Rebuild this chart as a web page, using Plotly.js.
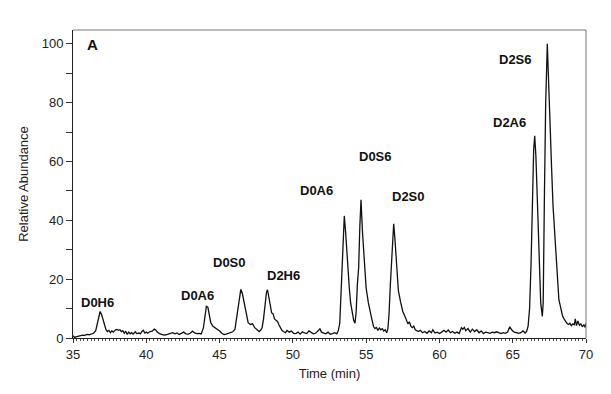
<!DOCTYPE html>
<html>
<head>
<meta charset="utf-8">
<script src="https://cdn.plot.ly/plotly-3.0.1.min.js"></script>
<style>html,body{margin:0;padding:0;background:#fff}#chart{width:611px;height:394px}</style>
</head>
<body>
<div id="chart"></div>
<script>
// Retention time (min)
const time = [
35.00,35.10,35.20,35.35,35.50,35.65,35.80,35.95,36.10,36.25,36.40,36.55,36.65,36.75,36.85,36.95,37.05,37.15,37.25,37.35,
37.45,37.55,37.65,37.75,37.90,38.00,38.10,38.20,38.30,38.40,38.50,38.60,38.70,38.80,38.90,39.00,39.10,39.25,39.35,39.50,
39.60,39.70,39.80,39.90,40.00,40.10,40.25,40.40,40.55,40.65,40.75,40.90,41.05,41.20,41.35,41.50,41.65,41.80,41.95,42.10,
42.25,42.40,42.55,42.70,42.85,43.00,43.15,43.30,43.45,43.60,43.75,43.90,44.00,44.10,44.20,44.30,44.40,44.55,44.70,44.85,
45.00,45.15,45.30,45.45,45.60,45.75,45.90,46.05,46.15,46.25,46.35,46.45,46.55,46.65,46.75,46.85,46.95,47.10,47.25,47.40,
47.55,47.70,47.80,47.90,48.00,48.10,48.20,48.27,48.35,48.45,48.55,48.65,48.75,48.85,48.95,49.05,49.15,49.25,49.35,49.50,
49.60,49.75,49.90,50.05,50.20,50.35,50.50,50.65,50.80,50.95,51.10,51.25,51.40,51.55,51.70,51.85,51.95,52.10,52.25,52.40,
52.55,52.70,52.85,53.00,53.10,53.20,53.28,53.35,53.43,53.51,53.60,53.74,53.85,53.94,54.05,54.15,54.24,54.32,54.40,54.49,
54.57,54.65,54.75,54.88,55.00,55.15,55.25,55.38,55.50,55.60,55.70,55.80,55.90,56.00,56.10,56.20,56.30,56.40,56.48,56.56,
56.65,56.72,56.80,56.88,56.96,57.08,57.20,57.36,57.50,57.65,57.75,57.85,57.95,58.05,58.15,58.25,58.35,58.45,58.55,58.70,
58.85,59.00,59.15,59.30,59.45,59.55,59.70,59.85,60.00,60.15,60.30,60.45,60.60,60.75,60.90,61.05,61.20,61.35,61.50,61.60,
61.70,61.80,61.95,62.10,62.25,62.40,62.55,62.70,62.85,63.00,63.15,63.30,63.45,63.60,63.75,63.90,64.05,64.20,64.35,64.50,
64.65,64.80,64.95,65.10,65.25,65.40,65.55,65.70,65.85,65.95,66.05,66.15,66.25,66.34,66.43,66.50,66.58,66.68,66.80,66.91,
67.02,67.08,67.16,67.25,67.36,67.45,67.55,67.65,67.75,67.85,67.95,68.05,68.15,68.22,68.30,68.40,68.50,68.60,68.70,68.80,
68.90,69.00,69.10,69.20,69.27,69.35,69.45,69.55,69.65,69.75,69.85,69.95,70.00
];
// Relative abundance (%)
const abundance = [
0.8,0.2,0.4,0.6,0.7,1.0,0.9,1.2,1.1,1.4,1.6,2.5,5.0,7.6,9.0,8.0,6.0,4.0,2.8,2.2,
2.6,1.8,2.4,2.0,2.8,2.9,2.6,2.8,2.2,2.5,1.6,2.3,1.2,2.0,1.4,1.8,1.3,2.1,1.5,1.7,
1.4,2.2,2.6,1.7,2.0,1.6,2.2,2.3,3.0,2.7,2.0,1.5,1.2,1.0,1.1,1.3,1.6,1.8,1.4,1.7,
1.2,1.5,2.0,1.4,1.3,1.6,2.3,1.7,1.5,1.6,1.4,3.5,8.0,10.8,10.5,8.2,5.2,4.0,3.5,3.0,
2.4,1.6,1.2,1.3,1.6,1.9,2.1,3.0,6.5,11.0,14.5,16.5,15.2,12.5,9.5,6.5,5.2,4.6,4.8,3.5,
3.0,2.2,2.6,3.5,6.5,11.5,15.5,16.4,14.0,10.5,8.6,8.2,6.5,6.0,5.6,4.5,3.2,2.6,2.2,1.8,
2.6,2.0,2.4,1.6,1.5,2.0,1.3,2.1,1.7,1.5,2.4,1.8,1.4,1.6,2.2,3.1,2.0,1.6,1.4,2.0,
1.3,1.5,1.8,1.4,2.5,5.0,15.0,24.0,36.0,41.5,36.0,24.0,17.0,12.0,8.0,6.0,5.0,9.0,18.0,24.0,
38.0,47.0,36.0,24.0,17.0,12.0,9.0,6.6,4.0,3.2,3.6,2.6,3.4,2.8,3.2,2.4,2.8,1.8,3.0,8.0,
18.0,24.0,33.0,38.8,34.0,24.0,16.0,12.0,9.0,7.3,6.0,4.8,5.5,4.0,3.5,4.0,2.8,2.4,2.2,2.6,
1.8,2.2,1.6,2.4,1.8,2.8,1.7,2.0,1.5,2.0,2.6,2.0,2.7,1.8,2.2,1.6,2.0,1.5,3.5,3.0,
3.6,2.5,3.2,2.0,3.0,2.2,2.8,1.8,2.4,1.5,2.0,1.8,1.6,2.0,1.8,2.1,1.7,1.5,1.8,1.6,
2.0,3.8,2.6,2.0,1.8,1.6,1.8,2.4,1.7,2.2,4.0,10.0,25.0,47.0,64.0,68.7,62.0,47.0,25.0,12.0,
7.3,12.0,47.0,80.0,100.0,85.0,70.0,58.0,45.0,36.0,27.0,19.0,13.0,11.5,9.5,7.5,6.5,5.6,5.0,4.6,
5.0,4.2,4.8,4.5,6.5,4.2,5.8,4.3,4.8,3.8,4.6,3.6,5.0
];
// Peak labels
const peakNames = ["D0H6","D0A6","D0S0","D2H6","D0A6","D0S6","D2S0","D2A6","D2S6"];
const peakLabelTime = [36.7,43.46,45.71,49.33,51.58,55.67,57.86,64.75,65.16];
const peakLabelLevel = [11.9,14.3,25.5,21.1,50.0,61.6,48.0,73.1,94.6];
const panelLabel = "A";

const FONT = "Liberation Sans, Arial, Helvetica, sans-serif";

const annotations = peakNames.map((name, i) => ({
  x: peakLabelTime[i], y: peakLabelLevel[i], xref: "x", yref: "y",
  text: "<b>" + name + "</b>", showarrow: false,
  font: {family: FONT, size: 13, color: "#111"},
  xanchor: "center", yanchor: "middle"
}));
annotations.push({
  x: 36.3, y: 99.7, xref: "x", yref: "y", text: "<b>" + panelLabel + "</b>",
  showarrow: false, font: {family: FONT, size: 15, color: "#111"},
  xanchor: "center", yanchor: "middle"
});

const trace = {
  x: time, y: abundance, type: "scatter", mode: "lines",
  line: {color: "#111", width: 1.3}, hoverinfo: "skip"
};

const layout = {
  width: 611, height: 394,
  margin: {l: 73, r: 25, t: 30, b: 56},
  paper_bgcolor: "#fff", plot_bgcolor: "#fff",
  showlegend: false,
  font: {family: FONT, size: 13, color: "#222"},
  xaxis: {
    range: [35, 70], tickmode: "linear", tick0: 35, dtick: 5,
    ticks: "outside", ticklen: 4, tickcolor: "#333", tickwidth: 1,
    showline: true, linecolor: "#222", linewidth: 1,
    showgrid: false, zeroline: false,
    minor: {dtick: 0.25, tick0: 35, ticks: "outside", ticklen: 2, tickcolor: "#555", showgrid: false},
    tickfont: {family: FONT, size: 13, color: "#222"},
    title: {text: "Time (min)", font: {family: FONT, size: 13, color: "#222"}, standoff: 8}
  },
  yaxis: {
    range: [0, 104.7], tickmode: "linear", tick0: 0, dtick: 20,
    ticks: "outside", ticklen: 6, tickcolor: "#333", tickwidth: 1,
    showline: true, linecolor: "#222", linewidth: 1,
    showgrid: false, zeroline: false,
    minor: {dtick: 10, tick0: 0, ticks: "outside", ticklen: 6, tickcolor: "#333", showgrid: false},
    tickfont: {family: FONT, size: 13, color: "#222"},
    title: {text: "Relative Abundance", font: {family: FONT, size: 13, color: "#222"}, standoff: 10}
  },
  shapes: [
    {type: "line", xref: "paper", yref: "paper", x0: 0, x1: 1, y0: 1, y1: 1, line: {color: "#777", width: 1}},
    {type: "line", xref: "paper", yref: "paper", x0: 1, x1: 1, y0: 0, y1: 1, line: {color: "#777", width: 1}}
  ],
  annotations: annotations
};

Plotly.newPlot("chart", [trace], layout, {staticPlot: true, displayModeBar: false});
</script>
</body>
</html>
